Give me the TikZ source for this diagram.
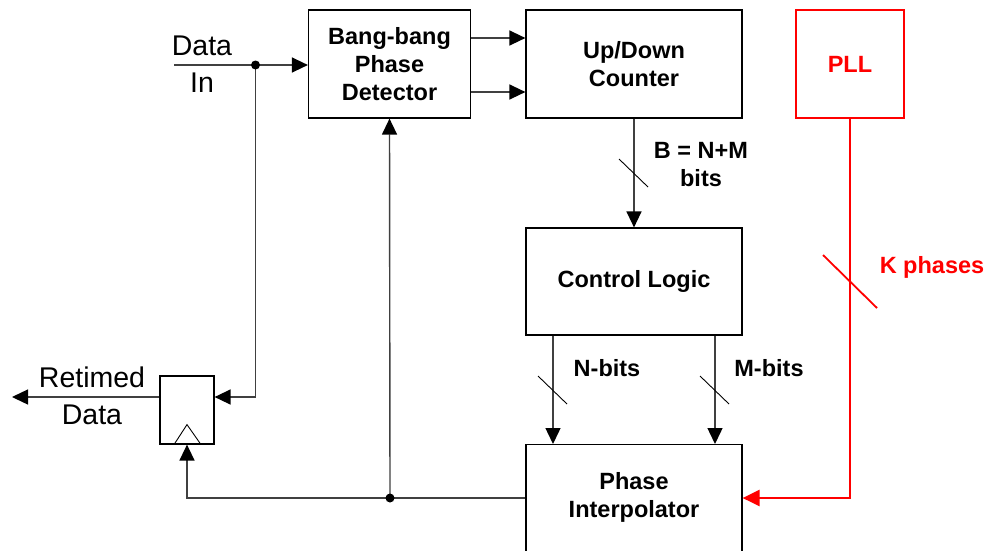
\documentclass[tikz,border=0pt]{standalone}
\usepackage{fontspec}
\setmainfont{Liberation Sans}
\usetikzlibrary{arrows.meta}
\begin{document}
\begin{tikzpicture}[x=1pt,y=-1pt,
  box/.style={draw=black, line width=1.2pt, fill=white, inner sep=0pt, align=center,
    font=\bfseries\fontsize{23.5}{28}\selectfont},
  lbl/.style={inner sep=0pt, align=center, font=\bfseries\fontsize{23.5}{28}\selectfont},
  plain/.style={inner sep=0pt, align=center, font=\fontsize{28.5}{37}\selectfont},
  wire/.style={draw=black!75, line width=1.4pt},
  arr/.style={wire, -{Triangle[length=16pt,width=15pt,color=black]}},
  redarr/.style={draw=red, line width=2.4pt, -{Triangle[length=17pt,width=16pt,color=red]}},
  slash/.style={draw=black, line width=0.9pt},
  redslash/.style={draw=red, line width=1.8pt}]
\clip (0,0) rectangle (988,550);
\fill[white] (0,0) rectangle (988,550);

% blocks
\node[box, minimum width=162pt, minimum height=108pt] (bbpd) at (389.5,64) {Bang-bang\\Phase\\Detector};
\node[box, minimum width=216pt, minimum height=108pt] (udc) at (634,64) {Up/Down\\Counter};
\node[box, draw=red, text=red, line width=1.8pt, minimum width=108pt, minimum height=108pt] (pll) at (850,64) {PLL};
\node[box, minimum width=216pt, minimum height=107pt] (cl) at (634,281.5) {Control Logic};
\node[box, minimum width=216pt, minimum height=130pt, anchor=north] (pi) at (634,444) {};
\node[lbl] (pitext) at (634,497) {Phase\\Interpolator};

% retiming flip-flop with clock triangle
\node[box, minimum width=54pt, minimum height=68pt] (ff) at (187,410) {};
\draw[line width=0.9pt] (ff.south) ++(-13,0) -- ++(13,-20) -- ++(14,20);

% junctions and free ends
\coordinate (din) at (174,65);
\coordinate (j1) at (255.5,65);
\coordinate (fb) at ([yshift=-54pt]pi.north west);
\coordinate (j2) at (390,498);
\coordinate (rout) at (12,397);

% data path
\draw[arr] (din) -- (din -| bbpd.west);
\draw[arr] (j1) |- ([yshift=13pt]ff.east);
\draw[arr] ([yshift=13pt]ff.west) -- (rout);
\draw[arr] ([yshift=26pt]bbpd.east) -- ([yshift=26pt]udc.west);
\draw[arr] ([yshift=-28pt]bbpd.east) -- ([yshift=-28pt]udc.west);
\draw[arr] (udc.south) -- (cl.north);
\draw[arr] ([xshift=-81pt]cl.south) -- ([xshift=-81pt]pi.north);
\draw[arr] ([xshift=81pt]cl.south) -- ([xshift=81pt]pi.north);

% recovered clock feedback
\draw[arr] (fb) -| (ff.south);
\draw[arr] (j2) -- (bbpd.south);
\fill[black] (j1) circle (4.5pt);
\fill[black] (j2) circle (4.5pt);

% multiphase clock from the PLL
\draw[redarr] (pll.south) |- ([yshift=-54pt]pi.north east);

% bus width marks
\draw[slash] (619,159) -- (648,187);
\draw[slash] (538,376) -- (567,404);
\draw[slash] (700,376) -- (729,404);
\draw[redslash] (823,255) -- (877,308);

% labels
\node[plain] (datain) at (202,64) {Data\\In};
\node[plain] (retimed) at (92,396) {Retimed\\Data};
\node[lbl] (blbl) at (701,165) {B = N+M\\bits};
\node[lbl] (nlbl) at (607,368) {N-bits};
\node[lbl] (mlbl) at (769,368) {M-bits};
\node[lbl, text=red] (klbl) at (932,267) {K phases};
\end{tikzpicture}
\end{document}
